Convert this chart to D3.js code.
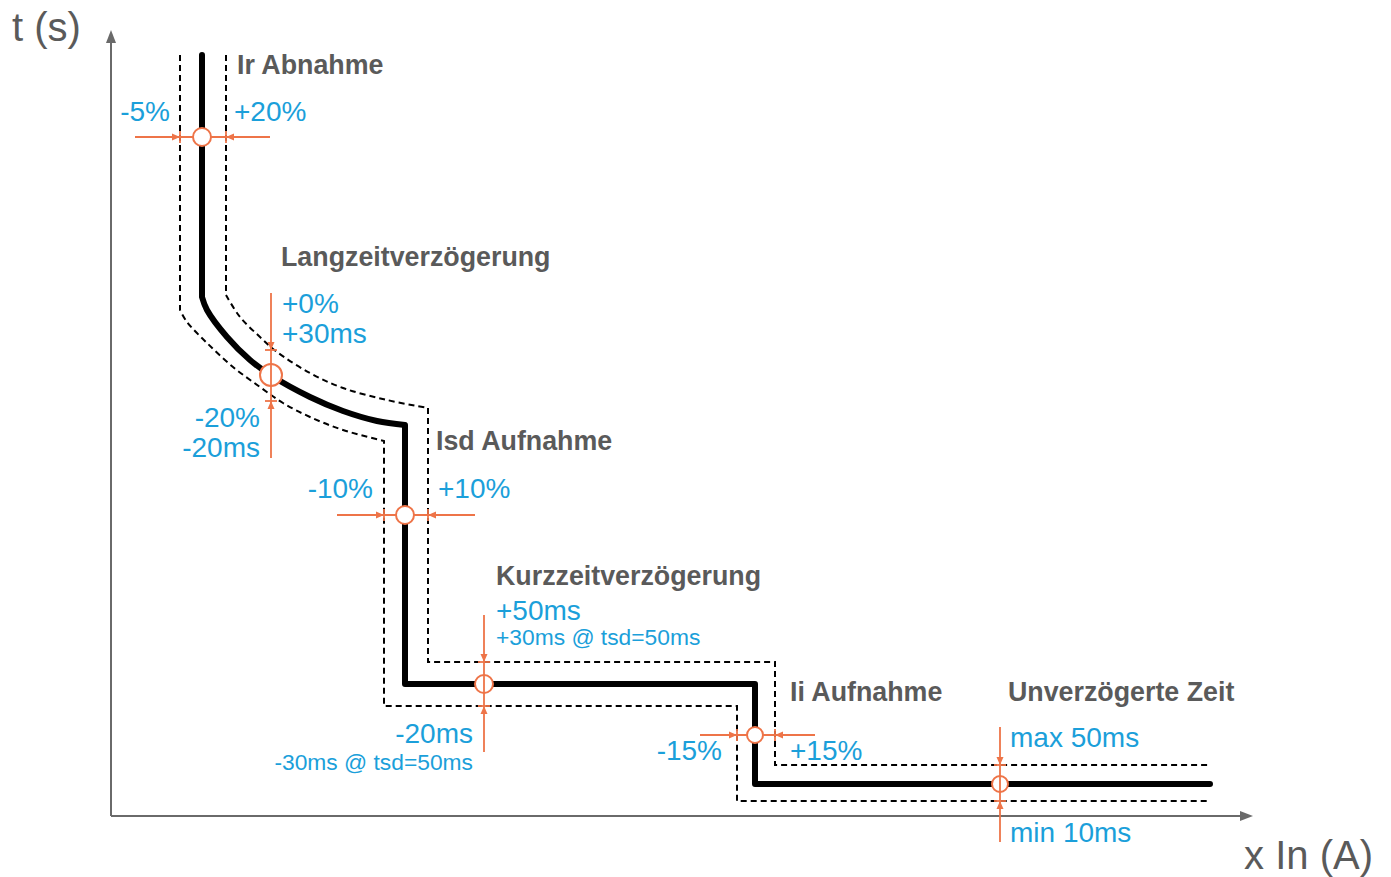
<!DOCTYPE html>
<html>
  <head>
    <meta charset="utf-8" />
    <title>Auslösekennlinie mit Toleranzen</title>
    <script src="https://cdn.jsdelivr.net/npm/d3@7"></script>
    <style>
      body { margin: 0; background: #fff; }
      text { font-family: "Liberation Sans", Arial, Helvetica, sans-serif; }
    </style>
  </head>
  <body>
    <svg id="svg" width="1391" height="877" xmlns="http://www.w3.org/2000/svg"></svg>
    <script>
      // Schematic units: x = current, y = time (both arbitrary, linear)
      // Nominal trip curve: straight top, curved long-time part, then the staircase
      let mainTop = [[91,761],[91,519]];
      let mainCurve = [[91,519],[96,506],[116,479],[139,456],[161,440],[199,419],
                       [232,405],[266,395],[294,391]];
      let mainSteps = [[294,391],[294,132],[644,132],[644,32],[1099,32]];

      // Upper tolerance band (dashed)
      let upperTop = [[115,761],[115,521]];
      let upperCurve = [[115,521],[129,499],[149,479],[166,464],[199,443],
                        [232,428],[276,416],[317,408]];
      let upperSteps = [[317,408],[317,154],[664,154],[664,51],[1097,51]];

      // Lower tolerance band (dashed)
      let lowerTop = [[69,761],[69,506]];
      let lowerCurve = [[69,506],[76,494],[96,473],[122,449],[149,429],
                        [172,413],[199,399],[232,386],[273,375]];
      let lowerSteps = [[273,375],[273,110],[626,110],[626,15],[1099,15]];

      // Setting points on the curve
      let markers = [
        { name: "ir",  x: 91,  y: 679 },
        { name: "lt",  x: 160, y: 441 },
        { name: "isd", x: 294, y: 301 },
        { name: "tsd", x: 373, y: 132 },
        { name: "ii",  x: 644, y: 81 },
        { name: "ti",  x: 889, y: 32 }
      ];

      // Tolerance arrows: dir h = along current, v = along time
      let tolerances = [
        { name: "ir",  dir: "h", at: 679, from: 24,  to: 159, tips: [69, 115] },
        { name: "lt",  dir: "v", at: 160, from: 523, to: 358, tips: [466, 415] },
        { name: "isd", dir: "h", at: 301, from: 226, to: 364, tips: [273, 317] },
        { name: "tsd", dir: "v", at: 373, from: 201, to: 64,  tips: [154, 110] },
        { name: "ii",  dir: "h", at: 81,  from: 589, to: 704, tips: [626, 664] },
        { name: "ti",  dir: "v", at: 889, from: 89,  to: -26, tips: [51, 15] }
      ];

      // Section titles
      let titles = [
        { text: "Ir Abnahme",          x: 126, y: 742 },
        { text: "Langzeitverzögerung", x: 170, y: 550 },
        { text: "Isd Aufnahme",        x: 325, y: 366 },
        { text: "Kurzzeitverzögerung", x: 385, y: 231 },
        { text: "Ii Aufnahme",         x: 679, y: 115 },
        { text: "Unverzögerte Zeit",   x: 897, y: 115 }
      ];

      // Tolerance values
      let tolLabels = [
        { text: "-5%",              x: 59,  y: 695, anchor: "end" },
        { text: "+20%",             x: 123, y: 695, anchor: "start" },
        { text: "+0%",              x: 171, y: 503, anchor: "start" },
        { text: "+30ms",            x: 171, y: 473, anchor: "start" },
        { text: "-20%",             x: 149, y: 389, anchor: "end" },
        { text: "-20ms",            x: 149, y: 359, anchor: "end" },
        { text: "-10%",             x: 262, y: 318, anchor: "end" },
        { text: "+10%",             x: 327, y: 318, anchor: "start" },
        { text: "+50ms",            x: 385, y: 196, anchor: "start" },
        { text: "+30ms @ tsd=50ms", x: 385, y: 171, anchor: "start", small: true },
        { text: "-20ms",            x: 362, y: 73,  anchor: "end" },
        { text: "-30ms @ tsd=50ms", x: 362, y: 46,  anchor: "end", small: true },
        { text: "-15%",             x: 611, y: 56,  anchor: "end" },
        { text: "+15%",             x: 679, y: 56,  anchor: "start" },
        { text: "max 50ms",         x: 899, y: 69,  anchor: "start" },
        { text: "min 10ms",         x: 899, y: -26, anchor: "start" }
      ];

      let svg = d3.select("svg");
      let orange = "#ee7448";
      let blue = "#1b9fda";
      let grey = "#5a5a5a";

      let x = d3.scaleLinear().domain([0, 1142]).range([111, 1253]);
      let y = d3.scaleLinear().domain([0, 786]).range([816, 30]);

      // Axes without ticks, arrowheads added by hand
      let axisCol = "#6a6a6a";
      svg.append("g")
        .attr("transform", "translate(0," + y(0) + ")")
        .call(d3.axisBottom(x).tickValues([]).tickSizeOuter(0))
        .call((g) => g.select(".domain").attr("stroke", axisCol).attr("stroke-width", 2)
          .attr("d", "M" + x(0) + ",0H" + (x(1142) - 10)));
      svg.append("g")
        .attr("transform", "translate(" + x(0) + ",0)")
        .call(d3.axisLeft(y).tickValues([]).tickSizeOuter(0))
        .call((g) => g.select(".domain").attr("stroke", axisCol).attr("stroke-width", 2)
          .attr("d", "M0," + y(0) + "V" + (y(786) + 10)));
      svg.append("path")
        .attr("d", "M" + x(1142) + "," + y(0) + "l-13,-5v10z")
        .attr("fill", axisCol);
      svg.append("path")
        .attr("d", "M" + x(0) + "," + y(786) + "l-5,13h10z")
        .attr("fill", axisCol);

      svg.append("text").text("t (s)")
        .attr("x", 12).attr("y", 41)
        .attr("font-size", 40).attr("fill", grey);
      svg.append("text").text("x In (A)")
        .attr("x", 1373).attr("y", 869)
        .attr("text-anchor", "end")
        .attr("font-size", 40).attr("fill", grey);

      // Makes one path: straight top, smooth curve, linear staircase
      let curveGen = d3.line().x((d) => x(d[0])).y((d) => y(d[1])).curve(d3.curveCatmullRom.alpha(0.5));
      let lineGen = d3.line().x((d) => x(d[0])).y((d) => y(d[1]));
      function makePath(top, curve, steps) {
        return lineGen(top) +
          curveGen(curve).replace(/^M[^CL]*/, "") +
          lineGen(steps).replace(/^M/, "L");
      }

      // Tolerance band
      [[upperTop, upperCurve, upperSteps], [lowerTop, lowerCurve, lowerSteps]].forEach((band) => {
        svg.append("path")
          .attr("d", makePath(band[0], band[1], band[2]))
          .attr("fill", "none")
          .attr("stroke", "#000")
          .attr("stroke-width", 2)
          .attr("stroke-dasharray", "6,4");
      });

      // Nominal curve
      svg.append("path")
        .attr("d", makePath(mainTop, mainCurve, mainSteps))
        .attr("fill", "none")
        .attr("stroke", "#000")
        .attr("stroke-width", 6)
        .attr("stroke-linecap", "round")
        .attr("stroke-linejoin", "round");

      // Draws one tolerance arrow (line, arrowheads pointing inwards, end ticks)
      function drawTolerance(t) {
        let g = svg.append("g").attr("stroke", orange).attr("fill", orange);
        let p = (v) => (t.dir === "h" ? [x(v), y(t.at)] : [x(t.at), y(v)]);
        let a = p(t.from), b = p(t.to);
        g.append("line")
          .attr("x1", a[0]).attr("y1", a[1]).attr("x2", b[0]).attr("y2", b[1])
          .attr("stroke-width", 1.8);
        t.tips.forEach((v, i) => {
          let tip = p(v);
          let other = p(t.tips[1 - i]);
          let dx = Math.sign(other[0] - tip[0]), dy = Math.sign(other[1] - tip[1]);
          // head sits outside the band and points in towards the curve
          let len = 8, hw = 3.5;
          let bx = tip[0] - dx * len, by = tip[1] - dy * len;
          g.append("path")
            .attr("d", "M" + tip[0] + "," + tip[1] +
              "L" + (bx - dy * hw) + "," + (by - dx * hw) +
              "L" + (bx + dy * hw) + "," + (by + dx * hw) + "Z")
            .attr("stroke", "none");
          g.append("line")
            .attr("x1", tip[0] - dy * 6).attr("y1", tip[1] - dx * 6)
            .attr("x2", tip[0] + dy * 6).attr("y2", tip[1] + dx * 6)
            .attr("stroke-width", 1.8);
        });
      }

      // Horizontal arrows go under the marker circles, vertical ones over them
      tolerances.filter((t) => t.dir === "h").forEach(drawTolerance);

      let markerSize = { ir: 9, lt: 11, isd: 9, tsd: 9, ii: 8, ti: 8 };
      svg.selectAll(".marker")
        .data(markers)
        .enter()
        .append("circle")
        .attr("class", "marker")
        .attr("cx", (d) => x(d.x))
        .attr("cy", (d) => y(d.y))
        .attr("r", (d) => markerSize[d.name])
        .attr("fill", "#fff")
        .attr("stroke", orange)
        .attr("stroke-width", 2);

      tolerances.filter((t) => t.dir === "v").forEach(drawTolerance);

      // Labels
      svg.selectAll(".title")
        .data(titles)
        .enter()
        .append("text")
        .attr("class", "title")
        .attr("x", (d) => x(d.x))
        .attr("y", (d) => y(d.y))
        .attr("font-size", 26.8)
        .attr("font-weight", "bold")
        .attr("fill", grey)
        .text((d) => d.text);

      svg.selectAll(".tol")
        .data(tolLabels)
        .enter()
        .append("text")
        .attr("class", "tol")
        .attr("x", (d) => x(d.x))
        .attr("y", (d) => y(d.y))
        .attr("text-anchor", (d) => d.anchor)
        .attr("font-size", (d) => (d.small ? 22.8 : 28))
        .attr("fill", blue)
        .text((d) => d.text);
    </script>
  </body>
</html>
